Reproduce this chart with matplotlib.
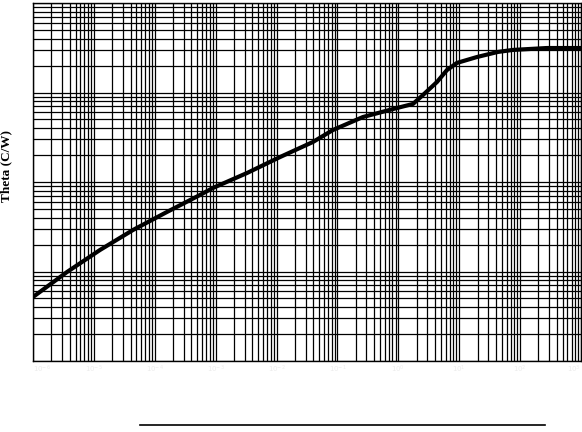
import matplotlib
matplotlib.use("Agg")
import matplotlib.pyplot as plt
from matplotlib.lines import Line2D
from matplotlib.ticker import LogLocator, NullFormatter

# Thermal impedance curve (time in s, Theta in C/W)
time_s = [1.0e-6, 3.61e-6, 1.26e-5, 4.39e-5, 1.58e-4, 5.52e-4, 9.0e-4,
          3.27e-3, 0.0114, 0.0396, 0.0843, 0.262, 0.948, 1.74, 2.54,
          4.31, 6.28, 9.16, 19.5, 43.2, 76.2, 275, 960]
theta = [0.00519, 0.00986, 0.0174, 0.0291, 0.0462, 0.0716, 0.0857,
         0.126, 0.190, 0.280, 0.381, 0.532, 0.671, 0.745, 0.938,
         1.31, 1.78, 2.14, 2.49, 2.84, 2.99, 3.14, 3.14]

x_decades = [1e-6, 1e-5, 1e-4, 1e-3, 1e-2, 1e-1, 1e0, 1e1, 1e2, 1e3]
x_range = (1e-6, 1e3)
y_range = (1e-3, 10)

fig = plt.figure(figsize=(5.82, 4.32), dpi=100)
ax = fig.add_axes([33 / 582, (432 - 361) / 432, 548 / 582, 358 / 432])

ax.loglog(time_s, theta, color="black", linewidth=3.0,
          solid_joinstyle="round")
ax.set_xlim(*x_range)
ax.set_ylim(*y_range)

ax.set_xticks(x_decades)
ax.xaxis.set_minor_locator(LogLocator(base=10, subs=range(2, 10), numticks=20))
ax.yaxis.set_major_locator(LogLocator(base=10, numticks=20))
ax.yaxis.set_minor_locator(LogLocator(base=10, subs=range(2, 10), numticks=20))
ax.xaxis.set_minor_formatter(NullFormatter())
ax.yaxis.set_minor_formatter(NullFormatter())
ax.yaxis.set_major_formatter(NullFormatter())
ax.grid(True, which="both", color="black", linewidth=0.9)

# the time tick labels are almost white in the original
ax.tick_params(which="both", length=0, labelsize=5, pad=2,
               labelcolor="#ececec")
ticks = ax.xaxis.get_major_ticks()
ticks[0].label1.set_horizontalalignment("left")
ticks[-1].label1.set_horizontalalignment("right")

for s in ax.spines.values():
    s.set_color("black")
    s.set_linewidth(1.0)

ax.set_ylabel("Theta (C/W)", family="Liberation Serif", fontweight="bold",
              fontsize=9.5)
ax.yaxis.set_label_coords(-21 / 548, 0.545)

# underline below the chart
fig.add_artist(Line2D([140 / 582, 545 / 582], [1 - 425 / 432, 1 - 425 / 432],
                      color="black", linewidth=1.2))

fig.savefig("out.png", dpi=100)
